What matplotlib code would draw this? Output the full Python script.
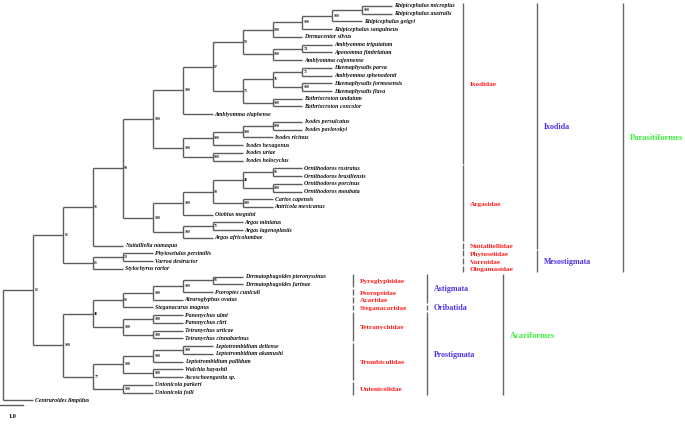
import matplotlib.pyplot as plt

# tree topology with bootstrap support after each clade
newick = ("(((((((((((((Rhipicephalus_microplus,Rhipicephalus_australis)100,Rhipicephalus_geigyi)100,"
          "Rhipicephalus_sanguineus)100,Dermacentor_silvus)100,((Amblyomma_trigutatum,Aponomma_fimbriatum)74,"
          "Amblyomma_cajennense)100)93,(((Haemaphysalis_parva,Amblyomma_sphenodonti)71,"
          "(Haemaphysalis_formosensis,Haemaphysalis_flava)100)76,(Bothriocroton_undatum,Bothriocroton_concolor)100)71)87,"
          "Amblyomma_elaphense)100,((((Ixodes_persulcatus,Ixodes_pavlovskyi)100,Ixodes_ricinus)100,Ixodes_hexagonus)100,"
          "(Ixodes_uriae,Ixodes_holocyclus)100)100)100,"
          "(((((Ornithodoros_rostratus,Ornithodoros_brasiliensis)91,(Ornithodoros_porcinus,Ornithodoros_moubata)100)48,"
          "(Carios_capensis,Antricola_mexicanus)100)99,Otobius_megnini)100,"
          "((Argas_miniatus,Argas_lagenoplastis)71,Argas_africolumbae)100)100)98,Nuttalliella_namaqua)91,"
          "((Phytoseiulus_persimilis,Varroa_destructor)59,Stylochyrus_rarior)81)81,"
          "((((((Dermatophagoides_pteronyssinus,Dermatophagoides_farinae)91,Psoroptes_cuniculi)100,"
          "Aleuroglyphus_ovatus)100,Steganacarus_magnus)91,"
          "((Panonychus_ulmi,Panonychus_citri)100,(Tetranychus_urticae,Tetranychus_cinnabarinus)100)100)48,"
          "((((Leptotrombidium_deliense,Leptotrombidium_akamushi)100,Leptotrombidium_pallidum)100,"
          "(Walchia_hayashii,Ascoschoengastia_sp.)100)100,(Unionicola_parkeri,Unionicola_foili)100)77)100)81,"
          "Centruroides_limpidus)")

family_names = ["Ixodidae", "Argasidae", "Nuttalliellidae", "Phytoseiidae", "Varroidae", "Ologamasidae",
                "Pyroglyphidae", "Psoroptidae", "Acaridae", "Steganacaridae", "Tetranychidae",
                "Trombiculidae", "Unionicolidae"]
family_span = [(0, 20), (21, 30), (31, 31), (32, 32), (33, 33), (34, 34), (35, 36), (37, 37),
               (38, 38), (39, 39), (40, 43), (44, 48), (49, 50)]
order_names = ["Ixodida", "Mesostigmata", "Astigmata", "Oribatida", "Prostigmata"]
order_span = [(0, 31), (32, 34), (35, 38), (39, 39), (40, 50)]
super_names = ["Parasitiformes", "Acariformes"]
super_span = [(0, 34), (35, 50)]
scale_label = "1.0"


def parse(s):
    pos = 0

    def node():
        nonlocal pos
        if s[pos] == "(":
            pos += 1
            kids = [node()]
            while s[pos] == ",":
                pos += 1
                kids.append(node())
            pos += 1  # ')'
            start = pos
            while pos < len(s) and s[pos] not in ",()":
                pos += 1
            return {"kids": kids, "label": s[start:pos]}
        start = pos
        while s[pos] not in ",()":
            pos += 1
        return {"kids": [], "label": s[start:pos].replace("_", " ")}

    return node()


tree = parse(newick)

# layout (pixels)
X0, DX = 3.0, 29.95
Y0, DY = 6.0, 7.73
LINE = "#5c5c5c"
serif = "Liberation Serif"

fig = plt.figure(figsize=(6.85, 4.24), dpi=100)
ax = fig.add_axes([0, 0, 1, 1])
ax.set_xlim(0, 685)
ax.set_ylim(424, 0)
ax.axis("off")

leaf_count = [0]


def draw(n, depth):
    x = X0 + depth * DX
    if not n["kids"]:
        y = Y0 + leaf_count[0] * DY
        leaf_count[0] += 1
        ax.text(x + 2, y, n["label"], fontsize=4.2, family=serif, style="italic",
                weight="bold", va="center", ha="left", color="#111111")
        return y
    ys = [draw(k, depth + 1) for k in n["kids"]]
    for yk in ys:
        ax.plot([x, x + DX], [yk, yk], color=LINE, lw=1.0, solid_capstyle="butt")
    ax.plot([x, x], [min(ys), max(ys)], color=LINE, lw=1.0, solid_capstyle="butt")
    y = (min(ys) + max(ys)) / 2
    if n["label"]:
        ax.text(x + 1.5, y, n["label"], fontsize=2.8, family=serif, weight="bold",
                va="center", ha="left", color="#222222")
    return y


draw(tree, 0)


def leaf_y(i):
    return Y0 + i * DY


# right-hand classification columns: (upper x, lower x)
cols = [
    (family_names, family_span, (463, 352.7), "#ff1f1f", 5.2),
    (order_names, order_span, (537, 427), "#4f2fe0", 5.7),
    (super_names, super_span, (623, 503), "#3cf03c", 6.1),
]
pad = 2.9
for names, spans, xs, color, fs in cols:
    for name, (a, b) in zip(names, spans):
        lx = xs[0] if a < 35 else xs[1]
        ya, yb = leaf_y(a) - pad, leaf_y(b) + pad
        ax.plot([lx, lx], [ya, yb], color="#666666", lw=1.0, solid_capstyle="butt")
        ax.text(lx + 7, (ya + yb) / 2 + 1, name, fontsize=fs, family=serif, weight="bold",
                color=color, va="center", ha="left")

# scale bar
ax.plot([0, 23], [405, 405], color=LINE, lw=1.0)
ax.text(8, 417, scale_label, fontsize=4.5, family=serif, weight="bold", va="center", ha="left")

fig.savefig("out.png", dpi=100)
